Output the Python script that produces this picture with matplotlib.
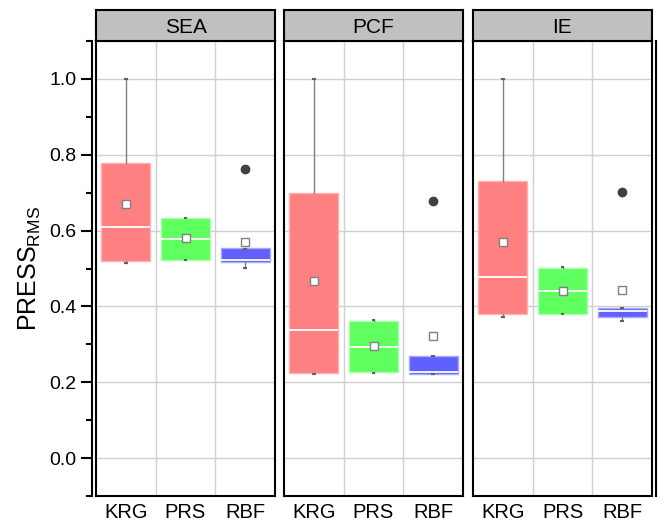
import matplotlib
matplotlib.use("Agg")
import matplotlib.pyplot as plt
from matplotlib.ticker import MultipleLocator

plt.rcParams["font.family"] = ["Liberation Sans", "DejaVu Sans"]
plt.rcParams["mathtext.fontset"] = "custom"
plt.rcParams["mathtext.rm"] = "Liberation Sans"
plt.rcParams["mathtext.it"] = "Liberation Sans:italic"

groups = ["SEA", "PCF", "IE"]
models = ["KRG", "PRS", "RBF"]

# box statistics, per group: KRG, PRS, RBF
q1 = {"SEA": [0.520, 0.523, 0.518], "PCF": [0.225, 0.227, 0.222], "IE": [0.380, 0.380, 0.373]}
med = {"SEA": [0.610, 0.579, 0.522], "PCF": [0.338, 0.293, 0.227], "IE": [0.478, 0.441, 0.388]}
q3 = {"SEA": [0.779, 0.634, 0.555], "PCF": [0.700, 0.362, 0.270], "IE": [0.731, 0.502, 0.396]}
mean = {"SEA": [0.671, 0.580, 0.571], "PCF": [0.468, 0.295, 0.323], "IE": [0.571, 0.441, 0.444]}
whislo = {"SEA": [0.515, 0.523, 0.502], "PCF": [0.223, 0.225, 0.222], "IE": [0.372, 0.380, 0.362]}
whishi = {"SEA": [1.0, 0.634, 0.552], "PCF": [1.0, 0.365, 0.270], "IE": [1.0, 0.503, 0.396]}
fliers = {"SEA": [[], [], [0.763]], "PCF": [[], [], [0.679]], "IE": [[], [], [0.702]]}

face = ["#FF8080", "#5EFF5E", "#6060FF"]
edge = ["#FFB0B0", "#A8FFA8", "#A8A8FF"]

W, H = 665, 523
fig = plt.figure(figsize=(W / 100, H / 100), dpi=100)

top_px, bot_px, strip_top = 41, 496, 10
panel_x = [96, 284, 473]
panel_w = 179


def fx(px):
    return px / W


def fy(px):
    return 1 - px / H


for g, x0 in zip(groups, panel_x):
    ax = fig.add_axes([fx(x0), fy(bot_px), fx(panel_w), (bot_px - top_px) / H])
    stats = []
    for i, m in enumerate(models):
        stats.append(dict(label=m, q1=q1[g][i], med=med[g][i], q3=q3[g][i],
                          mean=mean[g][i], whislo=whislo[g][i], whishi=whishi[g][i],
                          fliers=fliers[g][i]))
    bp = ax.bxp(stats, positions=range(3), widths=0.82, patch_artist=True,
                showmeans=True, capwidths=0.03,
                medianprops=dict(color="white", lw=1.3),
                whiskerprops=dict(color="#808080", lw=1),
                capprops=dict(color="#606060", lw=1.5),
                meanprops=dict(marker="s", markerfacecolor="white",
                               markeredgecolor="#808080", markersize=5.5, mew=1),
                flierprops=dict(marker="o", markerfacecolor="#404040",
                                markeredgecolor="#404040", markersize=6))
    for i, box in enumerate(bp["boxes"]):
        box.set_facecolor(face[i])
        box.set_edgecolor(edge[i])
        box.set_linewidth(1)
    ax.set_xlim(-0.5, 2.5)
    ax.set_ylim(-0.1, 1.1)
    ax.yaxis.set_major_locator(MultipleLocator(0.2))
    ax.set_xticks([0.5, 1.5], minor=True)
    ax.grid(True, axis="y", which="major", color="#D0D0D0", lw=1)
    ax.grid(True, axis="x", which="minor", color="#D0D0D0", lw=1)
    ax.set_axisbelow(True)
    ax.tick_params(axis="y", which="both", left=False, labelleft=False)
    ax.tick_params(axis="x", which="both", bottom=False, length=0, labelsize=14.5, pad=5)
    ax.set_xticks(range(3))
    ax.set_xticklabels(models)
    for s in ax.spines.values():
        s.set_color("black")
        s.set_linewidth(1.5)

    sax = fig.add_axes([fx(x0), fy(top_px), fx(panel_w), (top_px - strip_top) / H])
    sax.set_facecolor("#C0C0C0")
    sax.set_xticks([])
    sax.set_yticks([])
    for s in sax.spines.values():
        s.set_linewidth(1.5)
    sax.text(0.5, 0.45, g, ha="center", va="center", fontsize=15, transform=sax.transAxes)

# detached left axis
lax = fig.add_axes([fx(92), fy(bot_px), 0.001, (bot_px - top_px) / H])
lax.set_ylim(-0.1, 1.1)
lax.yaxis.set_major_locator(MultipleLocator(0.2))
lax.yaxis.set_minor_locator(MultipleLocator(0.2, offset=0.1))
lax.set_xticks([])
lax.patch.set_visible(False)
for k in ["top", "right", "bottom"]:
    lax.spines[k].set_visible(False)
lax.spines["left"].set_linewidth(1.5)
lax.tick_params(axis="y", which="major", length=8, width=1.5, labelsize=14, pad=3)
lax.tick_params(axis="y", which="minor", length=4, width=1.5)
lax.set_yticks([0.0, 0.2, 0.4, 0.6, 0.8, 1.0])
lax.set_yticklabels(["0.0", "0.2", "0.4", "0.6", "0.8", "1.0"])
lax.set_ylabel(r"PRESS$_{\mathrm{RMS}}$", fontsize=18, labelpad=5)

# detached right axis line
rax = fig.add_axes([fx(656), fy(bot_px), 0.001, (bot_px - top_px) / H])
rax.set_xticks([])
rax.set_yticks([])
rax.patch.set_visible(False)
for k in ["top", "right", "bottom"]:
    rax.spines[k].set_visible(False)
rax.spines["left"].set_linewidth(1.5)

fig.savefig("out.png", dpi=100)
